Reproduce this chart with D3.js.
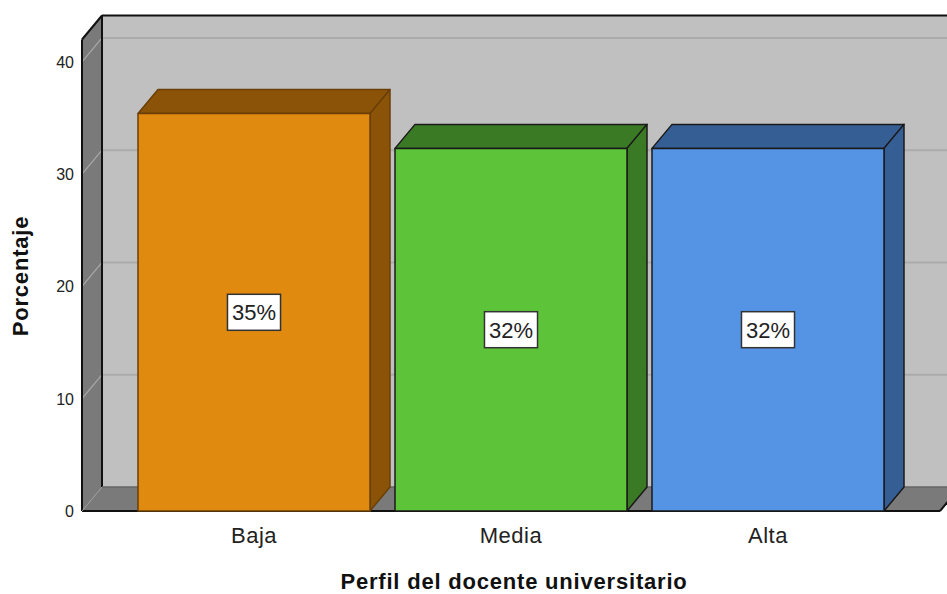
<!DOCTYPE html>
<html>
<head>
<meta charset="utf-8">
<script src="https://cdn.jsdelivr.net/npm/d3@7"></script>
<style>
  html, body { margin: 0; padding: 0; background: #ffffff; }
  svg { display: block; }
  text { font-family: "Liberation Sans", Arial, sans-serif; }
</style>
</head>
<body>
<svg id="chart" width="947" height="594"></svg>
<script>
// ---- data ----
const categories = ["Baja", "Media", "Alta"];
const values = [35.4, 32.3, 32.3];
const valueLabels = ["35%", "32%", "32%"];
const yTicks = [0, 10, 20, 30, 40];
const frontColors = ["#E08A10", "#5DC43A", "#5594E4"];
const sideColors = ["#8A5308", "#3B7A24", "#355E95"];
const edgeColors = ["#6A3F05", "#1a1a1a", "#1a1a1a"];
const xTitle = "Perfil del docente universitario";
const yTitle = "Porcentaje";

// ---- layout ----
(function () {
const svg = d3.select("#chart");
const W = 947, H = 594;
const left = 82, right = 940, bottom = 511;
const depthX = 20, depthY = -24;

const y = d3.scaleLinear().domain([0, 42]).range([bottom, 39.5]);
const x = d3.scaleBand().domain(categories).range([left, right])
  .paddingInner(25 / 257).paddingOuter(56 / 257);

const yTop = y(42);
const poly = pts => pts.map(p => p.join(",")).join(" ");

// back wall
svg.append("polygon")
  .attr("points", poly([[left + depthX, yTop + depthY], [right + depthX + 30, yTop + depthY],
                        [right + depthX + 30, bottom + depthY], [left + depthX, bottom + depthY]]))
  .attr("fill", "#C0C0C0");
// left wall
svg.append("polygon")
  .attr("points", poly([[left, bottom], [left, yTop], [left + depthX, yTop + depthY], [left + depthX, bottom + depthY]]))
  .attr("fill", "#7A7A7A");
// floor
svg.append("polygon")
  .attr("points", poly([[left, bottom], [right, bottom], [right + depthX, bottom + depthY], [left + depthX, bottom + depthY]]))
  .attr("fill", "#7A7A7A");

// gridlines
const grid = svg.append("g");
yTicks.filter(t => t > 0).forEach(t => {
  grid.append("line")
    .attr("x1", left + depthX).attr("x2", W)
    .attr("y1", y(t) + depthY).attr("y2", y(t) + depthY)
    .attr("stroke", "#ABABAB").attr("stroke-width", 2);
  grid.append("line")
    .attr("x1", left).attr("x2", left + depthX)
    .attr("y1", y(t)).attr("y2", y(t) + depthY)
    .attr("stroke", "#A9A9A9").attr("stroke-width", 1.2);
});

// wall edges
const edges = svg.append("g").attr("stroke", "#111").attr("stroke-width", 2).attr("fill", "none");
edges.append("line").attr("x1", left + depthX).attr("x2", W).attr("y1", yTop + depthY).attr("y2", yTop + depthY);
edges.append("line").attr("x1", left).attr("x2", left + depthX).attr("y1", yTop).attr("y2", yTop + depthY);
edges.append("line").attr("x1", left + depthX).attr("x2", left + depthX).attr("y1", yTop + depthY).attr("y2", bottom + depthY);
edges.append("line").attr("x1", left).attr("x2", left).attr("y1", yTop).attr("y2", bottom);
edges.append("line").attr("x1", left).attr("x2", right).attr("y1", bottom).attr("y2", bottom);
edges.append("line").attr("x1", right).attr("x2", right + depthX).attr("y1", bottom).attr("y2", bottom + depthY);
svg.append("line").attr("x1", left).attr("x2", left + depthX).attr("y1", bottom).attr("y2", bottom + depthY)
  .attr("stroke", "#9a9a9a").attr("stroke-width", 1);
svg.append("line").attr("x1", left + depthX).attr("x2", right + depthX).attr("y1", bottom + depthY).attr("y2", bottom + depthY)
  .attr("stroke", "#666").attr("stroke-width", 1.5);

// bars
const bars = svg.append("g");
categories.forEach((c, i) => {
  const x0 = x(c), x1 = x(c) + x.bandwidth();
  const yt = y(values[i]), yb = y(0);
  const g = bars.append("g").attr("stroke", edgeColors[i]).attr("stroke-width", 1.5).attr("stroke-linejoin", "round");
  g.append("polygon")
    .attr("points", poly([[x0, yt], [x1, yt], [x1 + depthX, yt + depthY], [x0 + depthX, yt + depthY]]))
    .attr("fill", sideColors[i]);
  g.append("polygon")
    .attr("points", poly([[x1, yt], [x1 + depthX, yt + depthY], [x1 + depthX, yb + depthY], [x1, yb]]))
    .attr("fill", sideColors[i]);
  g.append("rect")
    .attr("x", x0).attr("y", yt).attr("width", x1 - x0).attr("height", yb - yt)
    .attr("fill", frontColors[i]);
});

// value labels
categories.forEach((c, i) => {
  const cx = x(c) + x.bandwidth() / 2;
  const cy = y(values[i] / 2);
  const g = svg.append("g");
  const t = g.append("text")
    .attr("x", cx).attr("y", cy + 8)
    .attr("text-anchor", "middle")
    .attr("font-size", 22).attr("fill", "#222")
    .text(valueLabels[i]);
  const bb = t.node().getBBox();
  g.insert("rect", "text")
    .attr("x", cx - bb.width / 2 - 4.5).attr("y", cy - 18)
    .attr("width", bb.width + 9).attr("height", 36)
    .attr("fill", "#fff").attr("stroke", "#333").attr("stroke-width", 1.5);
});

// y tick labels
svg.append("g").selectAll("text").data(yTicks).join("text")
  .attr("x", 74).attr("y", d => y(d) + 6)
  .attr("text-anchor", "end").attr("font-size", 16).attr("fill", "#222")
  .text(d => d);

// category labels
svg.append("g").selectAll("text").data(categories).join("text")
  .attr("x", d => x(d) + x.bandwidth() / 2).attr("y", 543)
  .attr("text-anchor", "middle").attr("font-size", 22).attr("letter-spacing", 0.5)
  .attr("fill", "#222")
  .text(d => d);

// axis titles
svg.append("text")
  .attr("x", 514).attr("y", 589)
  .attr("text-anchor", "middle").attr("font-size", 22).attr("font-weight", "bold")
  .attr("letter-spacing", 0.8).attr("fill", "#111")
  .text(xTitle);
svg.append("text")
  .attr("transform", "translate(28,276) rotate(-90)")
  .attr("text-anchor", "middle").attr("font-size", 22).attr("font-weight", "bold")
  .attr("letter-spacing", 0.8).attr("fill", "#111")
  .text(yTitle);
})();
</script>
</body>
</html>
